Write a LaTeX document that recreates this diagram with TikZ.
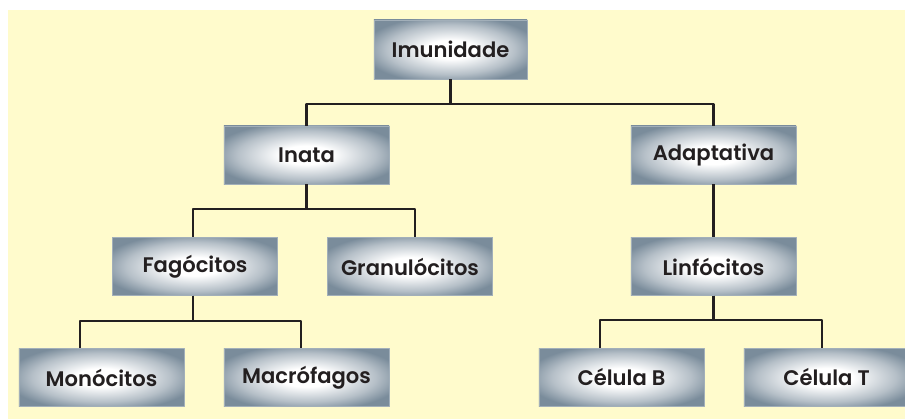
\documentclass[tikz,border=0pt]{standalone}
\usepackage{fontspec}
\setmainfont{Poppins}[BoldFont={Poppins SemiBold}]
\definecolor{bgyellow}{RGB}{255,251,204}
\definecolor{boxgray}{RGB}{122,140,155}
\definecolor{inkdark}{RGB}{35,31,32}
\pgfdeclareradialshading{boxglow}{\pgfpoint{0bp}{0bp}}{color(0bp)=(white); color(8bp)=(white); color(21bp)=(boxgray!55); color(29bp)=(boxgray); color(50bp)=(boxgray)}
\begin{document}
\begin{tikzpicture}[x=0.025cm, y=-0.025cm, line join=round,
  font=\fontsize{15}{17}\selectfont\bfseries,
  box/.style={shading=boxglow, draw=boxgray!70, line width=0.3pt, text=inkdark,
    minimum width=4.125cm, minimum height=1.45cm, inner sep=0pt},
  link/.style={draw=inkdark, line width=2.1pt}]
\useasboundingbox (0,0) rectangle (905,419);
\fill[bgyellow] (8,10) rectangle (905,419);
% cac hop
\node[box, minimum width=3.825cm, minimum height=1.475cm] (imun) at (450.5,49.5) {Imunidade};
\node[box] (inata) at (306.5,155) {Inata};
\node[box] (adapt) at (713.5,155) {Adaptativa};
\node[box] (fago) at (195,266.5) {Fagócitos};
\node[box] (granu) at (410,266.5) {Granulócitos};
\node[box] (linfo) at (713.5,266.5) {Linfócitos};
\node[box] (mono) at (101.5,377.5) {Monócitos};
\node[box] (macro) at (306.5,377.5) {Macrófagos};
\node[box] (celb) at (621.5,377.5) {Célula B};
\node[box] (celt) at (826.5,377.5) {Célula T};
% cac duong noi
\draw[link] (imun.south) -- (imun.south |- 0,104) -| (inata.north);
\draw[link] (imun.south) -- (imun.south |- 0,104) -| (adapt.north);
\draw[link] (inata.south) -- (inata.south |- 0,209) -| ([xshift=-0.05cm]fago.north);
\draw[link] (inata.south) -- (inata.south |- 0,209) -| ([xshift=0.125cm]granu.north);
\draw[link] ([xshift=-0.05cm]fago.south) -- ([xshift=-0.05cm]fago.south |- 0,321) -| ([xshift=-0.5375cm]mono.north);
\draw[link] ([xshift=-0.05cm]fago.south) -- ([xshift=-0.05cm]fago.south |- 0,321) -| ([xshift=-0.1375cm]macro.north);
\draw[link] (adapt.south) -- (linfo.north);
\draw[link] (linfo.south) -- (linfo.south |- 0,320) -| ([xshift=-0.5375cm]celb.north);
\draw[link] (linfo.south) -- (linfo.south |- 0,320) -| ([xshift=-0.1125cm]celt.north);
\end{tikzpicture}
\end{document}
